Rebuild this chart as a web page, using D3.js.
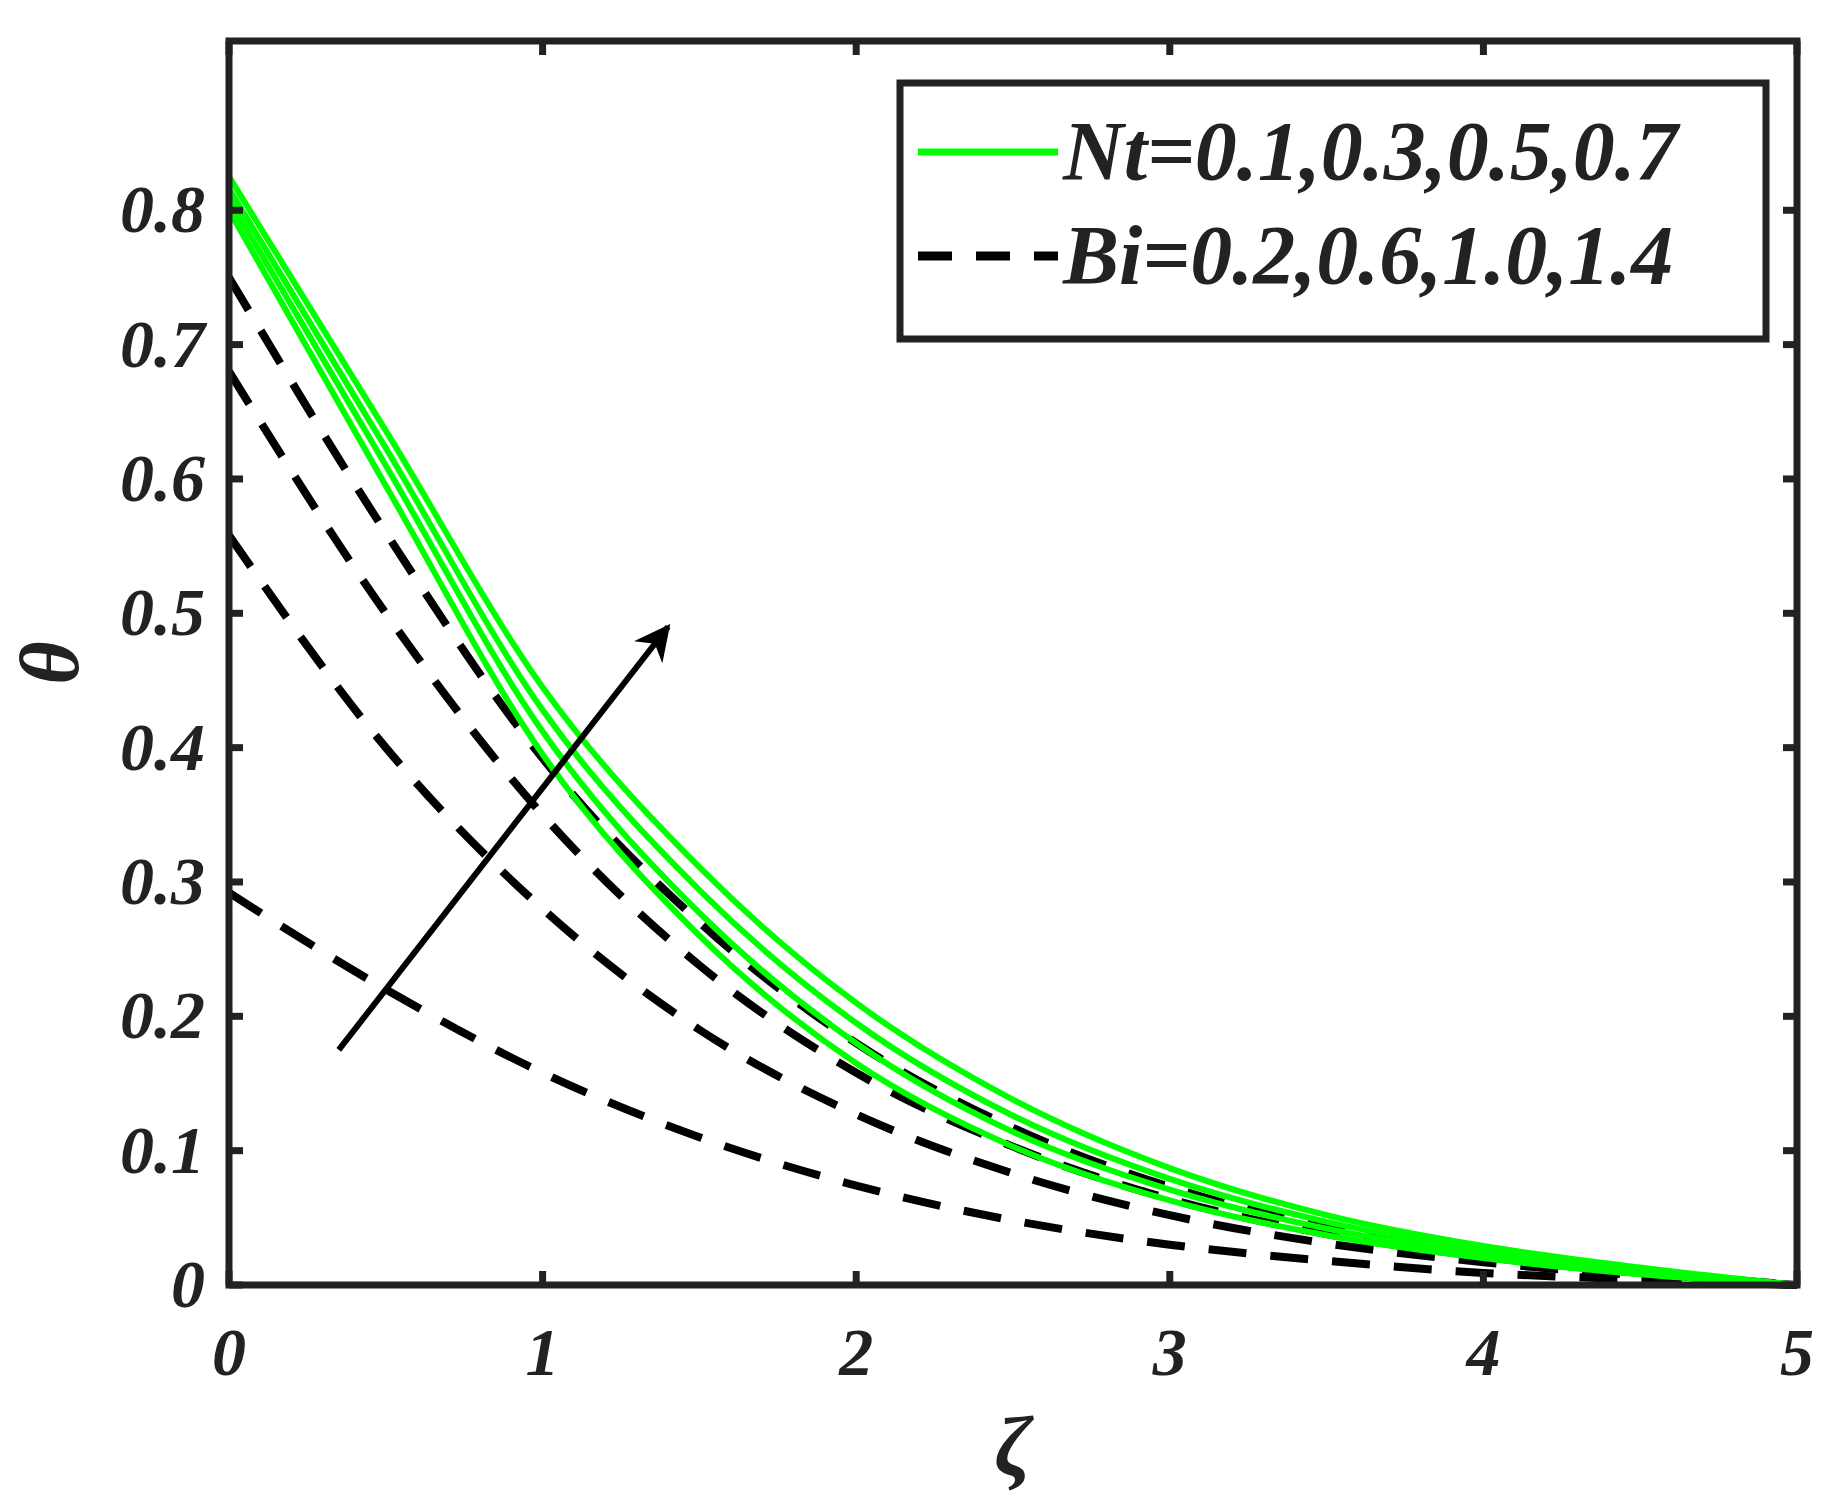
<!DOCTYPE html>
<html><head><meta charset="utf-8">
<script src="https://cdn.jsdelivr.net/npm/d3@7"></script>
<style>body{margin:0;background:#fff}text{font-family:"Liberation Serif","Times New Roman",Times,serif;font-weight:bold;font-style:italic;fill:#222}</style>
</head><body><svg id="c" width="1831" height="1495"></svg>
<script>
const zeta = [0, 0.5, 1, 1.5, 2, 2.5, 3, 3.5, 4, 4.5, 5]
const ntSeries = [
  [0.800, 0.595, 0.395, 0.260, 0.165, 0.103, 0.063, 0.037, 0.020, 0.008, 0],
  [0.808, 0.610, 0.412, 0.277, 0.180, 0.114, 0.071, 0.042, 0.023, 0.010, 0],
  [0.816, 0.623, 0.428, 0.294, 0.195, 0.126, 0.079, 0.047, 0.026, 0.011, 0],
  [0.825, 0.636, 0.445, 0.311, 0.210, 0.138, 0.087, 0.052, 0.029, 0.013, 0]
]
const biSeries = [
  [0.292, 0.220, 0.158, 0.110, 0.074, 0.048, 0.030, 0.018, 0.009, 0.004, 0],
  [0.558, 0.400, 0.280, 0.190, 0.127, 0.083, 0.052, 0.031, 0.017, 0.007, 0],
  [0.680, 0.500, 0.350, 0.238, 0.158, 0.103, 0.064, 0.038, 0.021, 0.009, 0],
  [0.750, 0.560, 0.392, 0.270, 0.180, 0.117, 0.073, 0.043, 0.024, 0.010, 0]
]
const xTicks = [0, 1, 2, 3, 4, 5]
const yTicks = [0, 0.1, 0.2, 0.3, 0.4, 0.5, 0.6, 0.7, 0.8]
const arrow = [[0.35, 0.175], [1.4, 0.49]]
const legendLabels = ['Nt=0.1,0.3,0.5,0.7', 'Bi=0.2,0.6,1.0,1.4']

const svg = d3.select('#c')
const x = d3.scaleLinear().domain([0, 5]).range([229, 1797])
const y = d3.scaleLinear().domain([0, 0.926]).range([1285, 41])
const ink = '#222'

const line = d3.line().x((d, i) => x(zeta[i])).y(d => y(d)).curve(d3.curveMonotoneX)

svg.selectAll('.bi').data(biSeries).join('path')
  .attr('d', line).attr('fill', 'none').attr('stroke', '#000')
  .attr('stroke-width', 8).attr('stroke-dasharray', '38,24')
svg.selectAll('.nt').data(ntSeries).join('path')
  .attr('d', line).attr('fill', 'none').attr('stroke', '#00ff00')
  .attr('stroke-width', 6)

// arrow
svg.append('defs').append('marker').attr('id', 'ah')
  .attr('viewBox', '0 0 10 10').attr('refX', 9).attr('refY', 5)
  .attr('markerWidth', 6).attr('markerHeight', 6).attr('orient', 'auto')
  .attr('markerUnits', 'strokeWidth')
  .append('path').attr('d', 'M0,0L10,5L0,10L3,5Z').attr('fill', '#000')
svg.append('line')
  .attr('x1', x(arrow[0][0])).attr('y1', y(arrow[0][1]))
  .attr('x2', x(arrow[1][0])).attr('y2', y(arrow[1][1]))
  .attr('stroke', '#000').attr('stroke-width', 6).attr('marker-end', 'url(#ah)')

// frame
svg.append('rect').attr('x', x(0)).attr('y', y(0.926))
  .attr('width', x(5) - x(0)).attr('height', y(0) - y(0.926))
  .attr('fill', 'none').attr('stroke', ink).attr('stroke-width', 7)

const tl = 14
xTicks.forEach(t => {
  svg.append('line').attr('x1', x(t)).attr('x2', x(t)).attr('y1', y(0)).attr('y2', y(0) - tl).attr('stroke', ink).attr('stroke-width', 7)
  svg.append('line').attr('x1', x(t)).attr('x2', x(t)).attr('y1', y(0.926)).attr('y2', y(0.926) + tl).attr('stroke', ink).attr('stroke-width', 7)
  svg.append('text').attr('x', x(t)).attr('y', y(0) + 90).attr('text-anchor', 'middle')
    .attr('font-size', 68).text(t)
})
yTicks.forEach(t => {
  svg.append('line').attr('x1', x(0)).attr('x2', x(0) + tl).attr('y1', y(t)).attr('y2', y(t)).attr('stroke', ink).attr('stroke-width', 7)
  svg.append('line').attr('x1', x(5)).attr('x2', x(5) - tl).attr('y1', y(t)).attr('y2', y(t)).attr('stroke', ink).attr('stroke-width', 7)
  svg.append('text').attr('x', x(0) - 24).attr('y', y(t) + 22).attr('text-anchor', 'end')
    .attr('font-size', 68).text(t === 0 ? '0' : d3.format('.1f')(t))
})

svg.append('text').attr('x', (x(0) + x(5)) / 2).attr('y', 1475).attr('text-anchor', 'middle')
  .attr('font-size', 84).text('ζ')
svg.append('text').attr('transform', `translate(78,${y(0.463)}) rotate(-90)`)
  .attr('text-anchor', 'middle').attr('font-size', 84).text('θ')

// legend
const lg = svg.append('g')
lg.append('rect').attr('x', 900).attr('y', 83).attr('width', 866).attr('height', 256)
  .attr('fill', '#fff').attr('stroke', ink).attr('stroke-width', 7)
legendLabels.forEach((s, i) => {
  const yy = 152 + i * 104
  lg.append('line').attr('x1', 918).attr('x2', 1058).attr('y1', yy).attr('y2', yy)
    .attr('stroke', i === 0 ? '#00ff00' : '#000').attr('stroke-width', i === 0 ? 7 : 9)
    .attr('stroke-dasharray', i === 0 ? null : '34,24')
  lg.append('text').attr('x', 1063).attr('y', yy + 28).attr('font-size', 84).text(s)
})
</script></body></html>
